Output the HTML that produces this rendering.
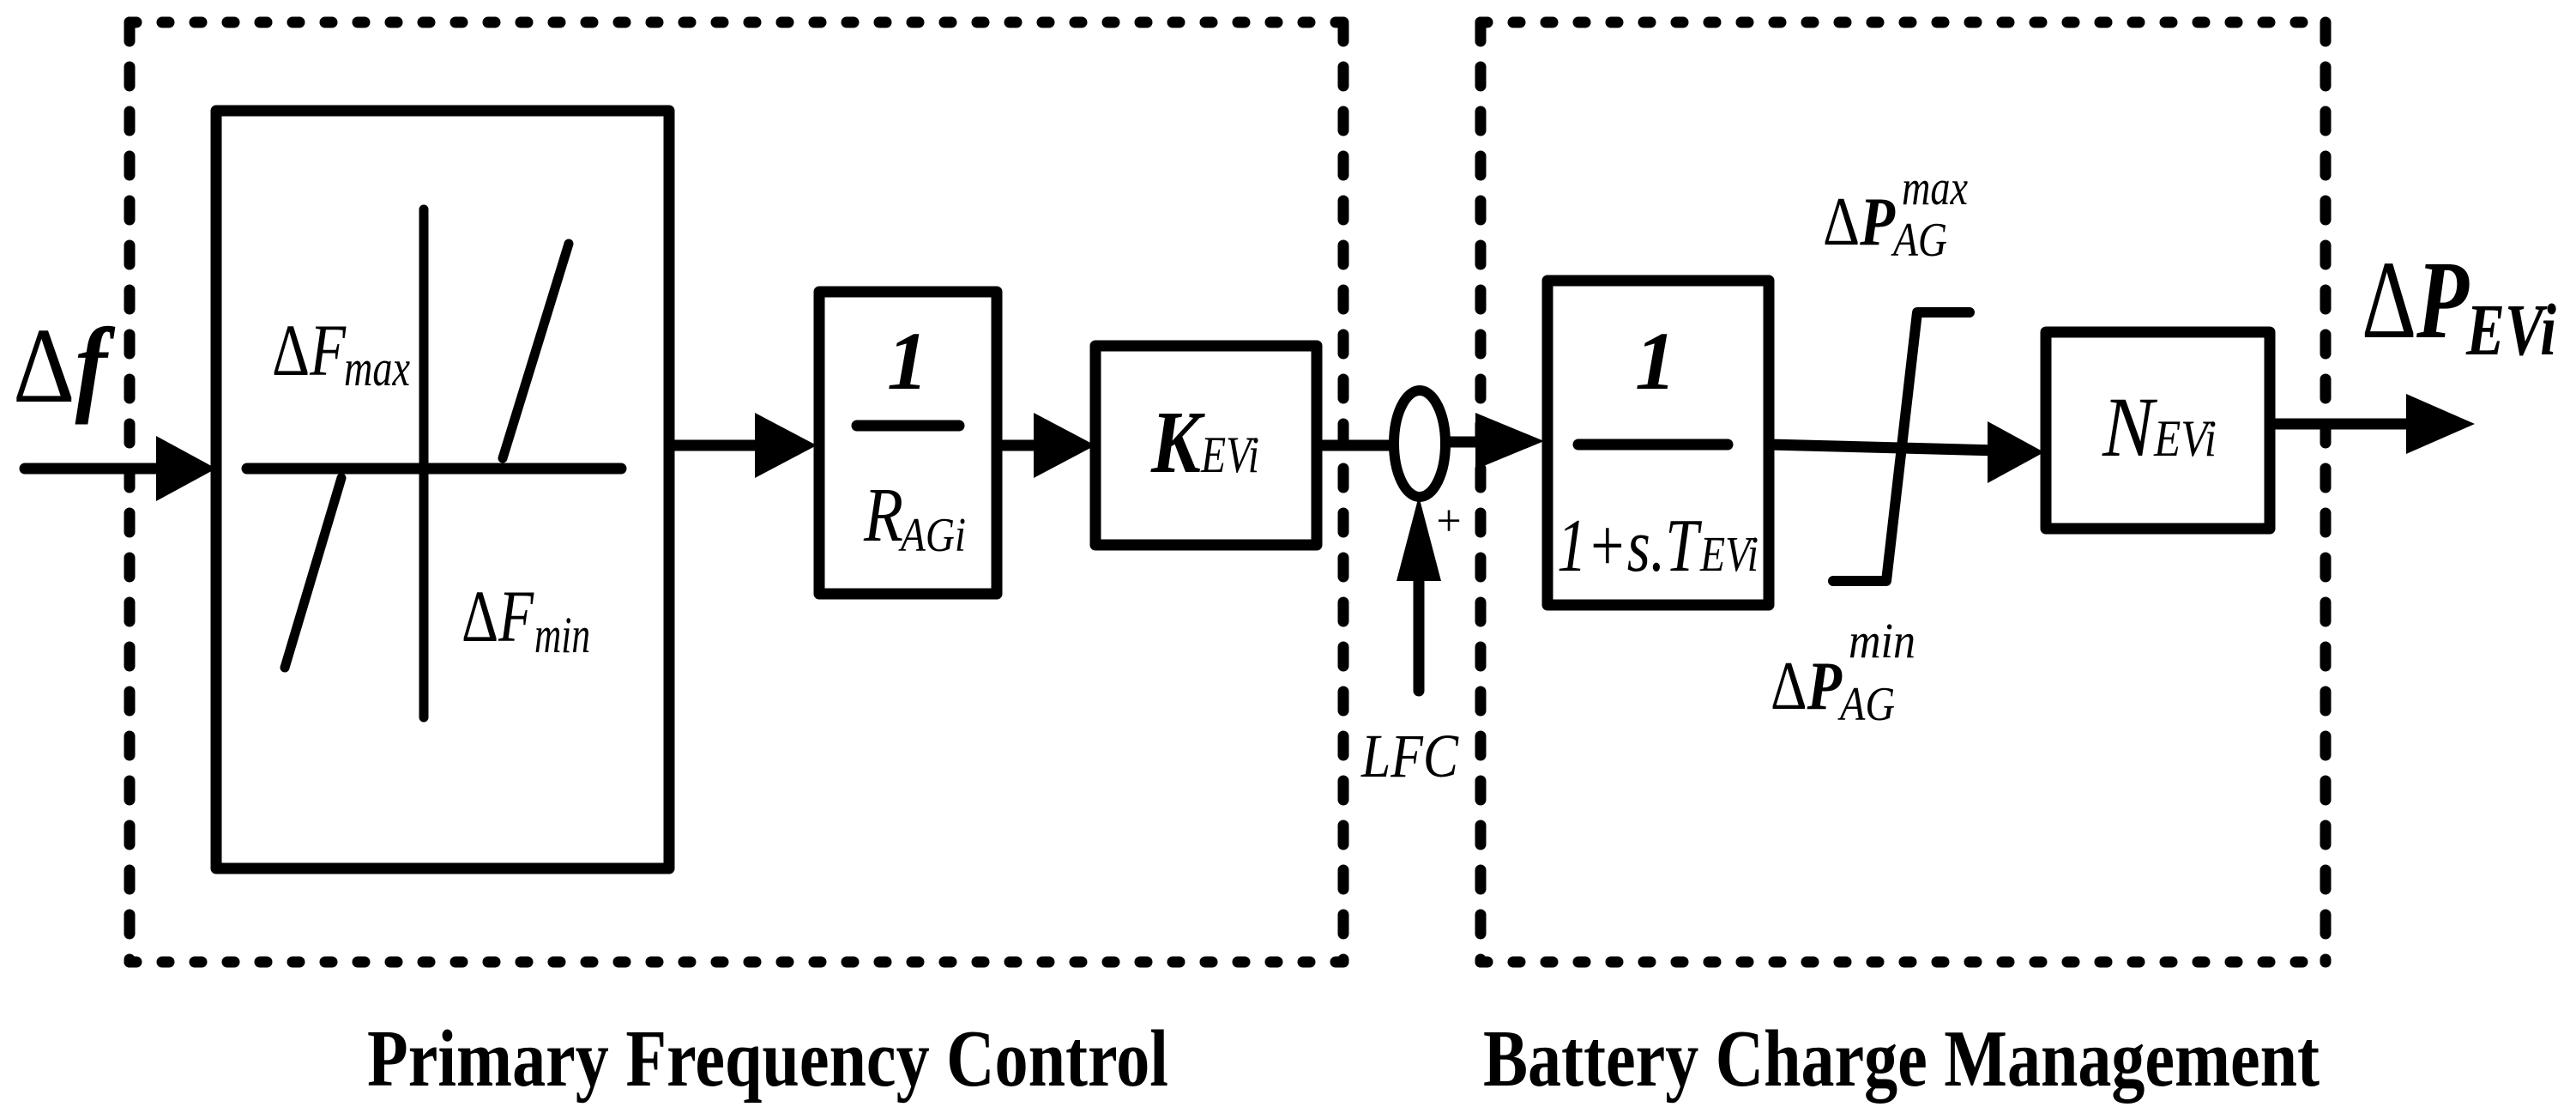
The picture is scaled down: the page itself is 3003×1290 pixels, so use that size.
<!DOCTYPE html>
<html><head><meta charset="utf-8"><style>html,body{margin:0;padding:0;background:#fff}svg{display:block}</style></head>
<body>
<svg width="3003" height="1290" viewBox="0 0 3003 1290" xmlns="http://www.w3.org/2000/svg" font-family="'Liberation Serif', serif">
<g fill="none" stroke="#000" stroke-width="13" stroke-linecap="round">
  <g stroke-width="13">
    <line x1="151" y1="26" x2="1566" y2="26" stroke-dasharray="8 30"/>
    <line x1="151" y1="1121" x2="1566" y2="1121" stroke-dasharray="8 30"/>
    <line x1="151" y1="26" x2="151" y2="1121" stroke-dasharray="22 30"/>
    <line x1="1566" y1="26" x2="1566" y2="1121" stroke-dasharray="22 30"/>
    <line x1="1726" y1="26" x2="2711" y2="26" stroke-dasharray="8 30"/>
    <line x1="1726" y1="1121" x2="2711" y2="1121" stroke-dasharray="8 30"/>
    <line x1="1726" y1="26" x2="1726" y2="1121" stroke-dasharray="22 30"/>
    <line x1="2711" y1="26" x2="2711" y2="1121" stroke-dasharray="22 30"/>
  </g>
  <rect x="252" y="129" width="528" height="883" stroke-linejoin="round"/>
  <line x1="288" y1="546" x2="724" y2="546"/>
  <line x1="494" y1="244" x2="494" y2="836" stroke-width="11"/>
  <line x1="586" y1="534" x2="663" y2="284" stroke-width="11"/>
  <line x1="398" y1="557" x2="332" y2="778" stroke-width="11"/>
  <line x1="29" y1="546" x2="200" y2="546"/>
  <line x1="780" y1="519" x2="890" y2="519"/>
  <rect x="955" y="340" width="207" height="352" stroke-linejoin="round"/>
  <line x1="999" y1="496" x2="1118" y2="496"/>
  <line x1="1162" y1="519" x2="1220" y2="519"/>
  <rect x="1277" y="403" width="258" height="232" stroke-linejoin="round"/>
  <line x1="1535" y1="519" x2="1624" y2="519"/>
  <ellipse cx="1655" cy="517" rx="30" ry="62" stroke-width="12"/>
  <line x1="1686" y1="515" x2="1740" y2="515"/>
  <line x1="1654" y1="805" x2="1654" y2="660"/>
  <rect x="1804" y="327" width="258" height="378" stroke-linejoin="round"/>
  <line x1="1840" y1="518" x2="2014" y2="518"/>
  <line x1="2062" y1="518" x2="2330" y2="525"/>
  <polyline points="2137,677 2199,677 2235,364 2296,364" stroke-width="12" stroke-linejoin="round"/>
  <rect x="2385" y="387" width="261" height="229" stroke-linejoin="round"/>
  <line x1="2646" y1="494" x2="2820" y2="494"/>
</g>
<g fill="#000">
  <polygon points="182,508 252,546 182,584"/>
  <polygon points="880,481 952,519 880,557"/>
  <polygon points="1205,481 1277,519 1205,557"/>
  <polygon points="1720,481 1800,514 1720,547"/>
  <polygon points="1628,677 1654,578 1680,677"/>
  <polygon points="2317,491 2383,527 2317,563"/>
  <polygon points="2805,459 2885,494 2805,529"/>
</g>
<g fill="#000">
  <text x="15" y="468" font-size="125" textLength="110" lengthAdjust="spacingAndGlyphs">Δ<tspan font-style="italic" font-weight="bold">f</tspan></text>
  <text x="317" y="437" font-size="86" textLength="86" lengthAdjust="spacingAndGlyphs">Δ<tspan font-style="italic">F</tspan></text>
  <text x="401" y="449" font-size="60" font-style="italic" textLength="77" lengthAdjust="spacingAndGlyphs">max</text>
  <text x="538" y="747" font-size="86" textLength="84" lengthAdjust="spacingAndGlyphs">Δ<tspan font-style="italic">F</tspan></text>
  <text x="623" y="760" font-size="60" font-style="italic" textLength="65" lengthAdjust="spacingAndGlyphs">min</text>
  <text x="1058" y="453" font-size="96" font-style="italic" font-weight="bold" text-anchor="middle">1</text>
  <text x="1007" y="630" font-size="90" font-style="italic" textLength="46" lengthAdjust="spacingAndGlyphs">R</text>
  <text x="1050" y="642" font-size="56" font-style="italic" textLength="76" lengthAdjust="spacingAndGlyphs">AGi</text>
  <text x="1342" y="550" font-size="104" font-style="italic" font-weight="bold" textLength="58" lengthAdjust="spacingAndGlyphs">K</text>
  <text x="1400" y="550" font-size="60" font-style="italic" textLength="68" lengthAdjust="spacingAndGlyphs">EVi</text>
  <text x="1689" y="624" font-size="52" text-anchor="middle">+</text>
  <text x="1587" y="905" font-size="72" font-style="italic" textLength="113" lengthAdjust="spacingAndGlyphs">LFC</text>
  <text x="1930" y="453" font-size="96" font-style="italic" font-weight="bold" text-anchor="middle">1</text>
  <text x="1815" y="665" font-size="88" font-style="italic" textLength="165" lengthAdjust="spacingAndGlyphs">1+s.T</text>
  <text x="1982" y="665" font-size="58" font-style="italic" textLength="68" lengthAdjust="spacingAndGlyphs">EVi</text>
  <text x="2125" y="285" font-size="80" textLength="84" lengthAdjust="spacingAndGlyphs">Δ<tspan font-style="italic" font-weight="bold">P</tspan></text>
  <text x="2217" y="238" font-size="58" font-style="italic" textLength="77" lengthAdjust="spacingAndGlyphs">max</text>
  <text x="2207" y="298" font-size="56" font-style="italic" textLength="63" lengthAdjust="spacingAndGlyphs">AG</text>
  <text x="2064" y="826" font-size="80" textLength="83" lengthAdjust="spacingAndGlyphs">Δ<tspan font-style="italic" font-weight="bold">P</tspan></text>
  <text x="2155" y="766" font-size="58" font-style="italic" textLength="78" lengthAdjust="spacingAndGlyphs">min</text>
  <text x="2145" y="839" font-size="56" font-style="italic" textLength="64" lengthAdjust="spacingAndGlyphs">AG</text>
  <text x="2451" y="531" font-size="100" font-style="italic" textLength="60" lengthAdjust="spacingAndGlyphs">N</text>
  <text x="2511" y="531" font-size="60" font-style="italic" textLength="73" lengthAdjust="spacingAndGlyphs">EVi</text>
  <text x="2753" y="393" font-size="130" textLength="125" lengthAdjust="spacingAndGlyphs">Δ<tspan font-style="italic" font-weight="bold">P</tspan></text>
  <text x="2875" y="413" font-size="86" font-style="italic" font-weight="bold" textLength="105" lengthAdjust="spacingAndGlyphs">EVi</text>
  <text x="428" y="1265" font-size="94" font-weight="bold" textLength="934" lengthAdjust="spacingAndGlyphs">Primary Frequency Control</text>
  <text x="1729" y="1265" font-size="94" font-weight="bold" textLength="975" lengthAdjust="spacingAndGlyphs">Battery Charge Management</text>
</g>
</svg>
</body></html>
